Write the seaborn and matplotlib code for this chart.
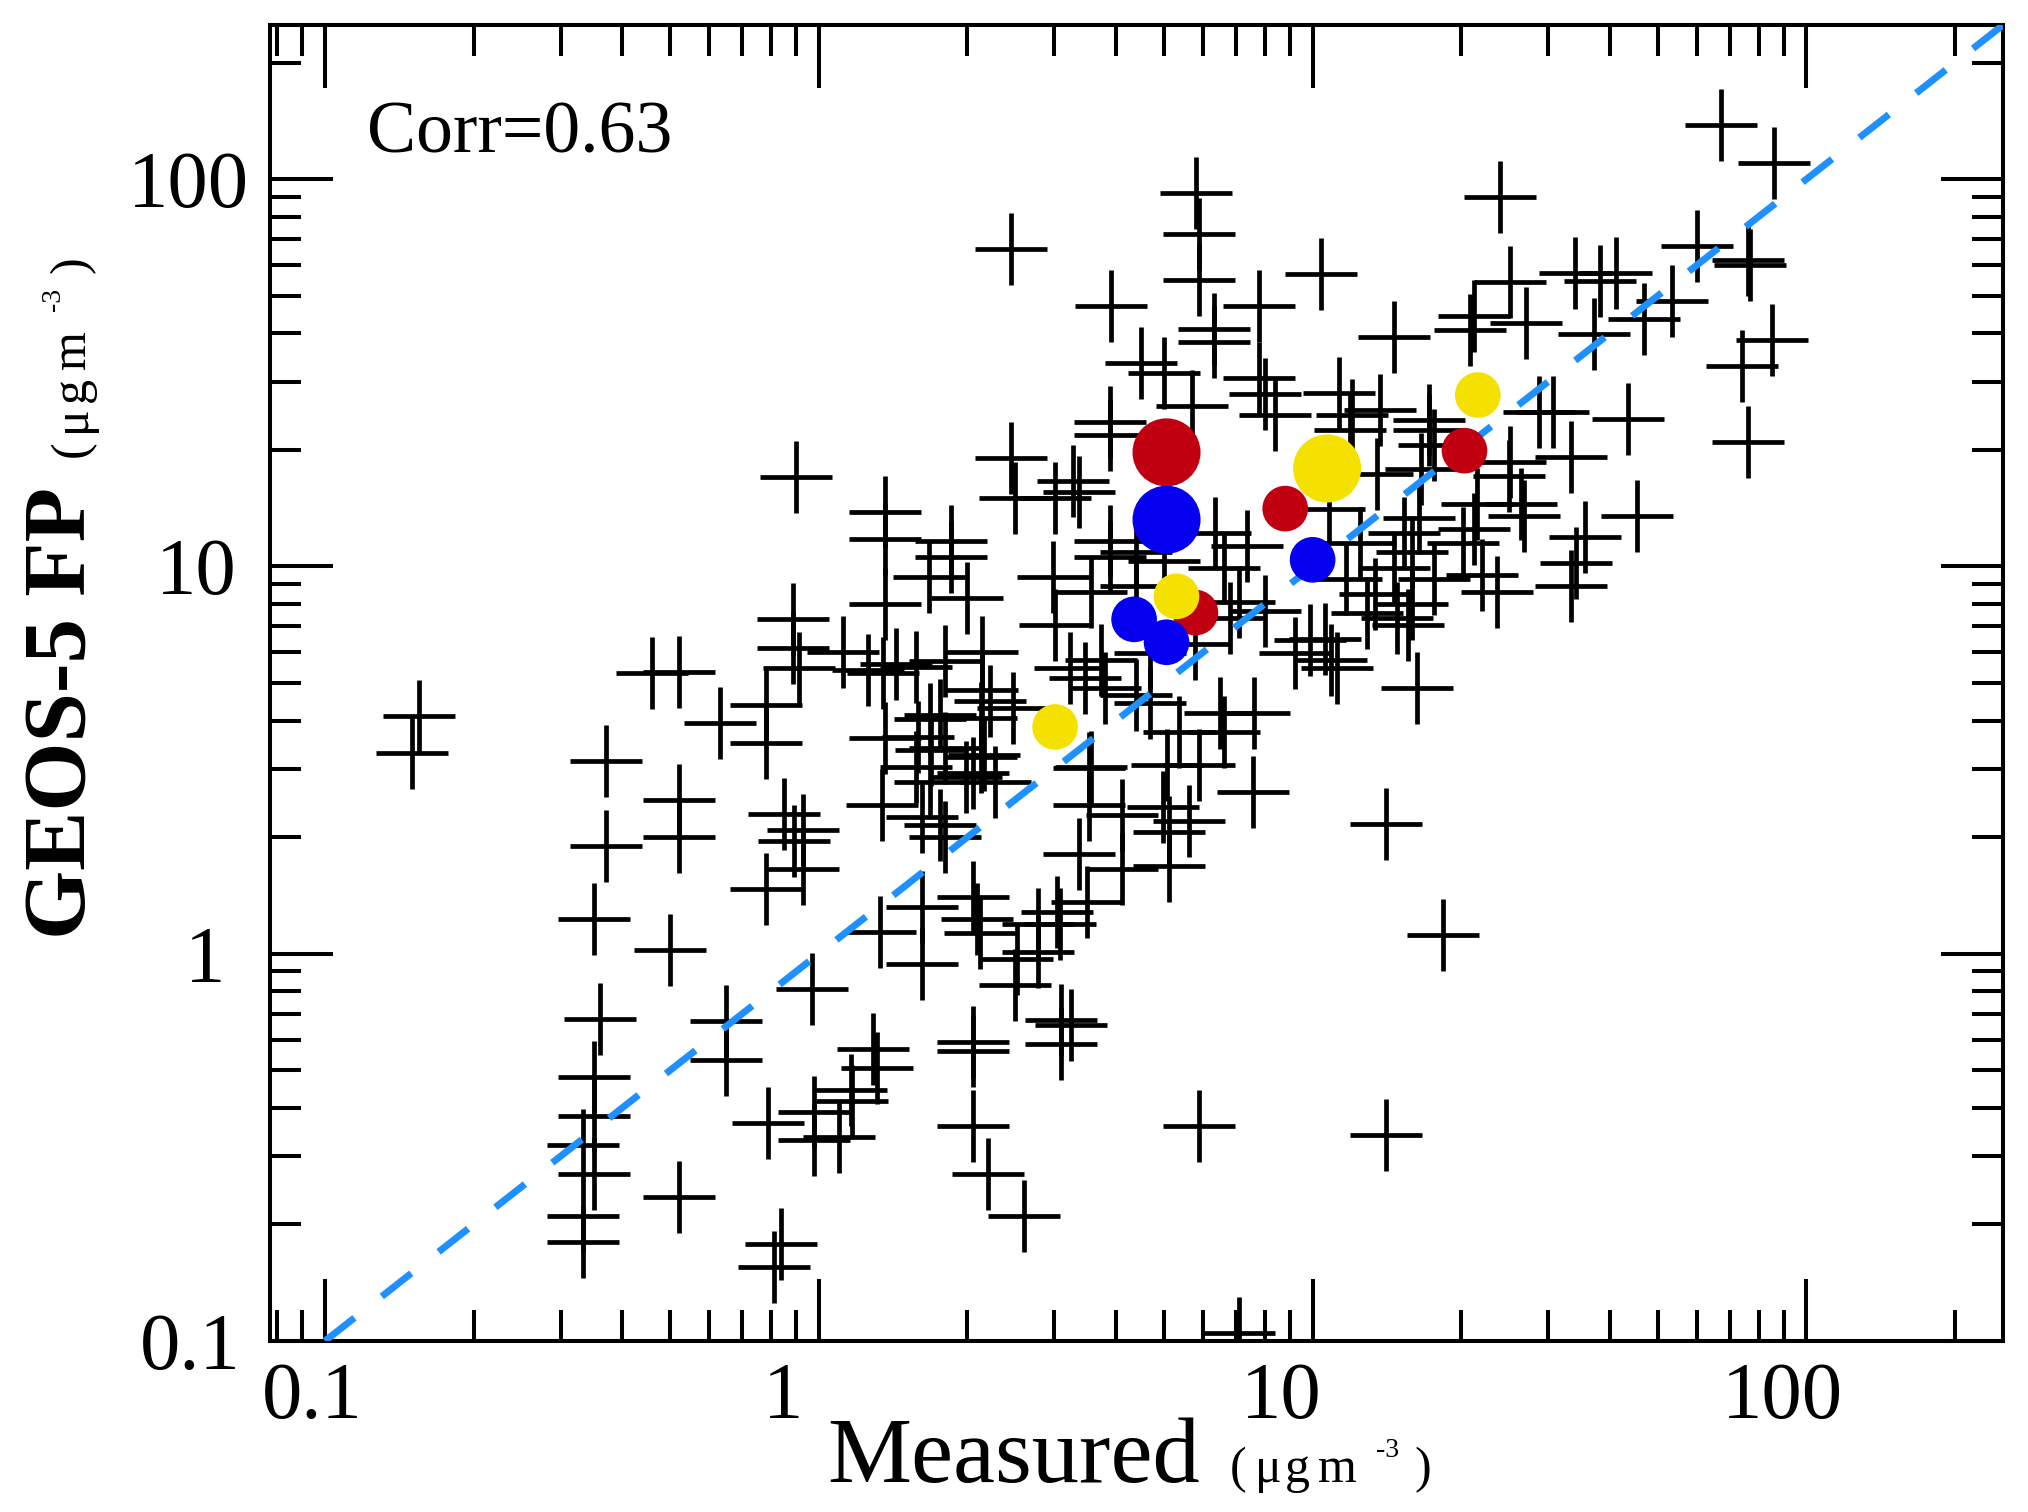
import numpy as np
import pandas as pd
import matplotlib
matplotlib.use('Agg')
import matplotlib.pyplot as plt
import matplotlib.ticker as mticker
from matplotlib.transforms import ScaledTranslation
import seaborn as sns

# data (ug m-3)
measured = [
    0.155, 0.15, 0.37, 0.37, 0.35, 0.36, 0.35, 0.35, 0.35, 0.333, 0.333, 0.333,
    0.46, 0.52, 0.52, 0.52, 0.50, 0.65, 0.65, 0.52, 0.63, 0.78, 0.78,
    0.885, 0.885, 0.91, 0.85, 0.89, 0.93, 0.93, 0.78, 0.97, 0.79, 0.98, 0.98,
    0.84, 0.81, 1.29, 1.31, 1.16, 1.17, 1.10, 2.05, 2.05, 3.1, 3.24, 3.1,
    2.05, 2.2, 2.6, 5.9, 14.1, 14.1, 18.4, 7.1, 1.33, 1.62, 1.62,
    2.05, 2.09, 2.12, 2.78, 3.08, 2.52, 2.5, 2.78,
    3.53, 3.53, 4.12, 3.37, 4.12, 3.5, 3.04, 4.97, 5.63, 5.13, 5.13,
    1.34, 1.62, 1.76, 1.80, 1.68, 1.80, 2.05, 2.16, 1.68,
    2.45, 2.45, 2.5, 0.9, 1.36, 1.36, 1.36, 1.85, 1.85, 1.67, 2.0, 1.12,
    1.26, 1.35, 1.43, 1.57, 1.8, 2.14, 2.47, 2.14, 1.36,
    5.8, 5.9, 5.9, 24, 10.4, 3.9, 7.8, 6.3, 6.3, 4.5, 5.0, 5.7, 14.6,
    7.8, 8.0, 8.4, 11.3, 13.7, 12, 17.2, 25.1, 21.2, 27, 20.8,
    34, 38.2, 41.2, 37.2, 46.9, 43.5, 33.4, 45.4, 35.6, 33.4, 34.1,
    22, 23.6, 16.3, 3.88, 3.88, 3.27, 3.37, 3.01, 3.88, 3.88, 2.98, 3.55, 3.01,
    6.33, 7.38, 4.38, 5.0, 6.63, 4.38, 7.1, 8.0, 6.8, 5.77, 4.69,
    9.2, 11.2, 10.6, 12.5, 11.7, 13.4, 12.9, 10.8, 13.5,
    17.2, 17.6, 16.6, 16.4, 15.3, 15.9, 14.6, 17.6, 15.9, 14.8, 15.6,
    25, 26.4, 21.5, 26.8, 21.2, 20.2,
    2.22, 1.76, 2.13, 1.59, 1.69, 2.13, 1.57, 1.99, 2.27,
    3.72, 3.46, 3.23, 3.8, 4.38, 4.69, 6.48, 7.6, 5.37, 6.63, 5.08, 5.9, 7.56, 3.55,
    67, 86, 60, 76, 77, 85, 74, 76, 53.5, 28.7, 30.7, 25.1, 11.9, 9.86, 10.9,
]
geos_fp = [
    4.1, 3.3, 3.15, 1.9, 1.23, 0.68, 0.48, 0.38, 0.27, 0.32, 0.21, 0.18,
    5.3, 5.35, 2.5, 2.0, 1.02, 0.67, 0.53, 0.235, 3.94, 4.4, 3.5,
    7.3, 6.15, 5.46, 2.3, 1.95, 2.09, 1.65, 1.47, 0.81, 0.365, 0.39, 0.33,
    0.178, 0.155, 0.569, 0.506, 0.444, 0.416, 0.337, 0.59, 0.56, 0.676, 0.656, 0.586,
    0.36, 0.27, 0.21, 0.36, 0.34, 2.16, 1.12, 0.105, 1.14, 1.32, 0.94,
    1.40, 1.23, 1.13, 1.19, 1.19, 0.97, 0.83, 1.01,
    3.02, 2.42, 2.28, 1.81, 1.65, 1.36, 1.28, 2.39, 2.2, 2.06, 1.68,
    2.42, 2.25, 2.15, 2.0, 4.03, 3.4, 2.93, 3.26, 2.77,
    66, 19, 15, 17, 13.8, 11.8, 8.0, 11.6, 10.6, 9.4, 8.3, 6.0,
    5.4, 5.3, 5.6, 5.5, 5.7, 6.0, 4.3, 4.8, 3.6,
    92, 72, 55, 90, 57, 47, 47, 41, 38, 33.5, 31.6, 26, 39,
    30.7, 27.9, 24.6, 28, 25.4, 24.6, 23.9, 54.3, 44.4, 42.6, 40.8,
    57.3, 54.6, 57.3, 39.8, 43.6, 24, 19.2, 13.5, 11.9, 8.9, 10.2,
    9.5, 8.6, 4.85, 23.6, 21.9, 16.6, 15.6, 15, 11.6, 10.6, 9.4, 8.6, 7.05,
    12.2, 11.3, 10.9, 10.3, 9.9, 8.9, 8.1, 7.65, 7.35, 6.3, 5.97,
    5.97, 5.46, 6.5, 11.5, 9.3, 8.5, 7.57, 14.1, 17.3,
    22.5, 20.6, 17.8, 13.3, 12.2, 10.9, 9.9, 9.3, 8.0, 7.35, 7.05,
    17.1, 14.5, 14.5, 13.5, 12.5, 11.5,
    4.5, 4.13, 4.06, 3.62, 3.36, 3.22, 3.03, 2.86, 2.77,
    5.72, 5.14, 5.46, 4.85, 4.65, 4.43, 4.18, 4.18, 3.73, 3.73, 3.07, 3.07, 2.62, 3.03,
    138, 110, 67, 62, 60, 38.5, 33, 21, 48.5, 25, 25, 18.6, 22.5, 6.45, 5.72,
]

# highlighted sites
circle_x = [5.06, 8.8, 20.3, 5.79, 5.06, 10.0, 4.35, 5.06, 10.7, 21.6, 5.3, 3.01]
circle_y = [19.7, 14.1, 19.9, 7.6, 13.2, 10.4, 7.3, 6.37, 17.9, 27.7, 8.37, 3.85]
circle_group = ['red'] * 4 + ['blue'] * 4 + ['yellow'] * 4
circle_scale = ['large', 'small', 'small', 'small'] * 3

one_to_one = [0.1, 250]
corr_text = 'Corr=0.63'

major_ticks = [0.1, 1, 10, 100]
tick_labels = ['0.1', '1', '10', '100']

plt.rcParams['font.family'] = ['Liberation Serif', 'DejaVu Serif']

W, H = 2028, 1512
fig = plt.figure(figsize=(W / 100, H / 100), dpi=100)
ax = fig.add_axes([270 / W, 1 - 1341 / H, (2003 - 270) / W, (1341 - 25) / H])
ax.set_xscale('log')
ax.set_yscale('log')

sns.scatterplot(x=measured, y=geos_fp, marker='+', s=2700, color='black',
                linewidth=3.4, ax=ax, zorder=2)
sns.lineplot(x=one_to_one, y=one_to_one, color='#1E90FF', linewidth=5.0,
             linestyle=(0, (5.4, 5.0)), ax=ax, zorder=3)

circles = pd.DataFrame({'x': circle_x, 'y': circle_y,
                        'group': circle_group, 'scale': circle_scale})
sns.scatterplot(data=circles, x='x', y='y', hue='group', size='scale',
                palette={'red': '#C00010', 'blue': '#0500F0', 'yellow': '#F5E100'},
                sizes={'large': 2400, 'small': 1080}, linewidth=0,
                legend=False, ax=ax, zorder=4)

ax.set_xlim(0.0774, 250)
ax.set_ylim(0.1, 250)
ax.set_xlabel('')
ax.set_ylabel('')

for axis in (ax.xaxis, ax.yaxis):
    axis.set_major_locator(mticker.FixedLocator(major_ticks))
    axis.set_major_formatter(mticker.FixedFormatter(tick_labels))
    axis.set_minor_locator(mticker.LogLocator(base=10, subs=np.arange(2, 10), numticks=30))
    axis.set_minor_formatter(mticker.NullFormatter())

ax.tick_params(which='major', direction='in', length=45, width=2.9,
               top=True, right=True, labelsize=58, color='black')
ax.tick_params(which='minor', direction='in', length=22, width=2.9,
               top=True, right=True)
ax.tick_params(axis='x', which='major', pad=15)
ax.tick_params(axis='y', which='major', pad=18)
for sp in ax.spines.values():
    sp.set_linewidth(2.9)

# xmgrace style label placement (pixel shifts)
x_shift = [-13, -36, -31, -24]
y_shift = [-4, -20, -8, 4]
for lab, dx in zip(ax.get_xticklabels(), x_shift):
    lab.set_transform(lab.get_transform() + ScaledTranslation(dx / 100, 0, fig.dpi_scale_trans))
for lab, dx in zip(ax.get_yticklabels(), y_shift):
    lab.set_transform(lab.get_transform() + ScaledTranslation(dx / 100, 0, fig.dpi_scale_trans))

ax.text(0.056, 0.903, corr_text, transform=ax.transAxes, fontsize=53,
        ha='left', va='baseline')

# axis titles with the small unit text, placed piece by piece
unit_parts = [('(', 0, 36, 0), ('μ', 25, 36, 0), ('g', 55, 36, 0),
              ('m', 88, 36, 0), ('-3', 146, 20, 25), (')', 184, 36, 0)]


def axis_title(title, x0, y0, start, vertical, weight):
    parts = [(title, 0, 64 if vertical else 68, 0)]
    parts += [(t, start + off, size, rise) for t, off, size, rise in unit_parts]
    for i, (txt, off, size, rise) in enumerate(parts):
        w = weight if i == 0 else 'normal'
        if vertical:
            fig.text((x0 - rise) / W, 1 - (y0 - off) / H, txt, rotation=90,
                     rotation_mode='anchor', ha='left', va='baseline',
                     fontsize=size, fontweight=w)
        else:
            fig.text((x0 + off) / W, 1 - (y0 - rise) / H, txt,
                     ha='left', va='baseline', fontsize=size, fontweight=w)


axis_title('Measured', 827, 1482, 403, False, 'normal')
axis_title('GEOS-5 FP', 85, 939, 482, True, 'bold')

fig.savefig('out.png', dpi=100)
